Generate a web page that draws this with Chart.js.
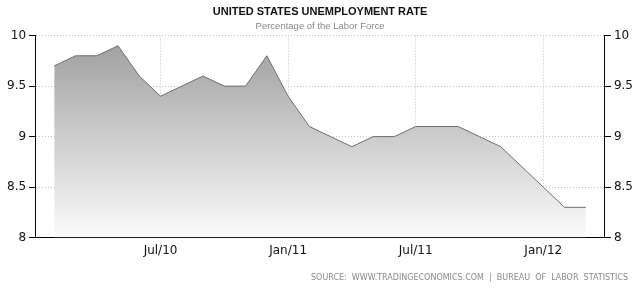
<!DOCTYPE html>
<html>
<head>
<meta charset="utf-8">
<title>United States Unemployment Rate</title>
<script src="https://cdn.jsdelivr.net/npm/chart.js@4.4.1/dist/chart.umd.min.js"></script>
<style>
  html, body { margin: 0; padding: 0; background: #fff; }
  #wrap { position: relative; width: 636px; height: 288px; }
  #source {
    position: absolute; right: 8px; top: 273px;
    font: 8px "DejaVu Sans", sans-serif; color: #8a8a8a;
    letter-spacing: 0; white-space: pre;
  }
</style>
</head>
<body>
<div id="wrap">
  <canvas id="chart" width="636" height="288"></canvas>
  <div id="source">SOURCE:  WWW.TRADINGECONOMICS.COM  |  BUREAU  OF  LABOR  STATISTICS</div>
</div>
<script>
// monthly, Feb 2010 .. Mar 2012
const months = [
  'Feb/10', 'Mar/10', 'Apr/10', 'May/10', 'Jun/10', 'Jul/10', 'Aug/10', 'Sep/10', 'Oct/10', 'Nov/10', 'Dec/10',
  'Jan/11', 'Feb/11', 'Mar/11', 'Apr/11', 'May/11', 'Jun/11', 'Jul/11', 'Aug/11', 'Sep/11', 'Oct/11', 'Nov/11', 'Dec/11',
  'Jan/12', 'Feb/12', 'Mar/12'
];
const rates = [
  9.7, 9.8, 9.8, 9.9, 9.6, 9.4, 9.5, 9.6, 9.5, 9.5, 9.8,
  9.4, 9.1, 9.0, 8.9, 9.0, 9.0, 9.1, 9.1, 9.1, 9.0, 8.9, 8.7,
  8.5, 8.3, 8.3
];
const xTickLabels = ['Jul/10', 'Jan/11', 'Jul/11', 'Jan/12'];
const yMin = 8;
const yMax = 10;
const yStep = 0.5;

const tickFont = { family: '"DejaVu Sans", sans-serif', size: 12 };

function areaGradient(context) {
  const { ctx, chartArea } = context.chart;
  if (!chartArea) return 'rgba(160,160,160,0.6)';
  const g = ctx.createLinearGradient(0, chartArea.top, 0, chartArea.bottom);
  g.addColorStop(0, '#9d9d9d');
  g.addColorStop(1, '#fbfbfb');
  return g;
}

const yAxis = (pos, onChart) => ({
  type: 'linear',
  position: pos,
  min: yMin,
  max: yMax,
  ticks: { stepSize: yStep, color: '#111', font: tickFont, padding: 3, callback: v => String(v) },
  grid: {
    color: '#c4c4c4',
    drawOnChartArea: onChart,
    tickColor: '#000',
    tickLength: 6
  },
  border: { color: '#000', width: 1, dash: [1, 2] }
});

new Chart(document.getElementById('chart'), {
  type: 'line',
  data: {
    datasets: [{
      label: 'Unemployment rate',
      data: rates.map((v, i) => ({ x: i, y: v })),
      borderColor: '#6e6e6e',
      borderWidth: 1,
      backgroundColor: areaGradient,
      fill: 'start',
      pointRadius: 0,
      tension: 0
    }]
  },
  options: {
    responsive: false,
    animation: false,
    layout: { padding: { left: 4, right: 0, top: 0, bottom: 28 } },
    scales: {
      x: {
        type: 'linear',
        min: -0.9,
        max: months.length - 0.1,
        afterBuildTicks: scale => {
          scale.ticks = xTickLabels.map(m => ({ value: months.indexOf(m) }));
        },
        ticks: {
          color: '#111',
          font: tickFont,
          padding: 2,
          callback: v => months[v]
        },
        grid: { color: '#c4c4c4', tickColor: 'transparent', tickLength: 4 },
        border: { color: '#000', width: 1, dash: [1, 2] }
      },
      y: yAxis('left', true),
      y2: yAxis('right', false)
    },
    plugins: {
      legend: { display: false },
      tooltip: { enabled: false },
      title: {
        display: true,
        text: 'UNITED STATES UNEMPLOYMENT RATE',
        color: '#111',
        font: { family: '"Liberation Sans", sans-serif', size: 11, weight: 'bold' },
        padding: { top: 5, bottom: 2 }
      },
      subtitle: {
        display: true,
        text: 'Percentage of the Labor Force',
        color: '#888',
        font: { family: '"Liberation Sans", sans-serif', size: 9.5 },
        padding: { top: 0, bottom: 4 }
      }
    }
  }
});
</script>
</body>
</html>
